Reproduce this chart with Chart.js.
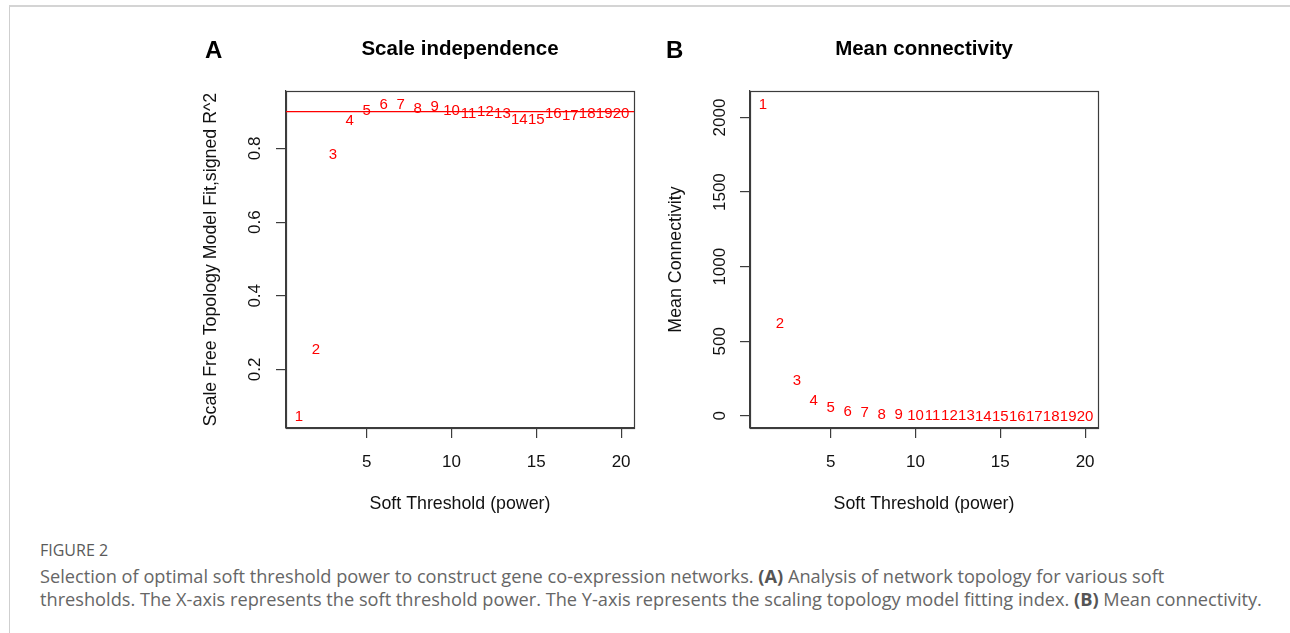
<!DOCTYPE html>
<html>
<head>
<meta charset="utf-8">
<script src="https://cdn.jsdelivr.net/npm/chart.js@4.4.1/dist/chart.umd.min.js"></script>
<style>
html,body{margin:0;padding:0;background:#fff;width:1290px;height:633px;overflow:hidden;position:relative;}
#frame{position:absolute;left:9px;top:5px;width:1281px;height:628px;border-top:2px solid #d4d4d4;border-left:1.5px solid #cfcfcf;box-sizing:border-box;}
canvas{position:absolute;top:0;}
#cA{left:0;}
#cB{left:645px;}
.cap{position:absolute;left:40px;font-family:"Open Sans",sans-serif;color:#666;white-space:nowrap;}
#fig{top:540px;font-size:16px;line-height:20px;color:#5a5a5a;}
#l1{top:565px;font-size:18.2px;line-height:23px;}
#l2{top:588px;font-size:18.2px;line-height:23px;}
.cap b{font-weight:700;color:#555;}
</style>
</head>
<body>
<div id="frame"></div>
<canvas id="cA" width="645" height="525"></canvas>
<canvas id="cB" width="645" height="525"></canvas>
<div class="cap" id="fig">FIGURE 2</div>
<div class="cap" id="l1">Selection of optimal soft threshold power to construct gene co-expression networks. <b>(A)</b> Analysis of network topology for various soft</div>
<div class="cap" id="l2">thresholds. The X-axis represents the soft threshold power. The Y-axis represents the scaling topology model fitting index. <b>(B)</b> Mean connectivity.</div>
<script>
// ---- data ----
const powers = [1,2,3,4,5,6,7,8,9,10,11,12,13,14,15,16,17,18,19,20];
const sftR2  = [0.075,0.256,0.785,0.879,0.905,0.922,0.922,0.912,0.917,0.905,0.897,0.903,0.897,0.882,0.881,0.896,0.891,0.897,0.897,0.898];
const meanK  = [2094,624,246,112,62,38,29,18,12,9,7.5,6.3,5.4,4.7,4.1,3.6,3.2,2.9,2.6,2.4];
const xTickValues = [5,10,15,20];
const yTickValuesA = [0.2,0.4,0.6,0.8];
const yTickValuesB = [0,500,1000,1500,2000];
const yTickTextA = ["0.2","0.4","0.6","0.8"];
const yTickTextB = ["0","500","1000","1500","2000"];
const r2Cutoff = 0.9;

const FONT = '"Liberation Sans", Arial, Helvetica, sans-serif';

function rRange(arr){
  const mn = Math.min(...arr), mx = Math.max(...arr);
  const e = (mx - mn) * 0.04;
  return [mn - e, mx + e];
}

function makePanel(canvasId, cfg){
  const H = 525;
  const W = 645;
  const [xmin, xmax] = rRange(powers);
  const [ymin, ymax] = rRange(cfg.values);
  const panelPlugin = {
    id: 'panel_' + canvasId,
    afterDatasetsDraw(chart){
      const ctx = chart.ctx;
      const ca = chart.chartArea;
      const xs = chart.scales.x, ys = chart.scales.y;
      ctx.save();
      // box
      ctx.strokeStyle = '#3c3c3c';
      ctx.lineWidth = 1.2;
      ctx.strokeRect(Math.round(ca.left)+0.5, Math.round(ca.top)+0.5, Math.round(ca.right-ca.left), Math.round(ca.bottom-ca.top));
      // cutoff line
      if (cfg.cutoff !== undefined){
        const yy = ys.getPixelForValue(cfg.cutoff);
        ctx.strokeStyle = '#ff0000';
        ctx.lineWidth = 1.4;
        ctx.beginPath();
        ctx.moveTo(ca.left, yy);
        ctx.lineTo(ca.right, yy);
        ctx.stroke();
      }
      // point labels
      ctx.fillStyle = '#ff0000';
      ctx.font = '15px ' + FONT;
      ctx.textAlign = 'center';
      ctx.textBaseline = 'alphabetic';
      powers.forEach((p, i) => {
        const px = xs.getPixelForValue(p);
        const py = ys.getPixelForValue(cfg.values[i]);
        ctx.fillText(String(p), px, py + 15*0.358);
      });
      // x tick labels
      ctx.fillStyle = '#111';
      ctx.font = '17px ' + FONT;
      xs.ticks.forEach(t => {
        ctx.fillText(String(t.value), xs.getPixelForValue(t.value), 466.5);
      });
      // y tick labels (rotated)
      ys.ticks.forEach((t, i) => {
        const py = ys.getPixelForValue(t.value);
        ctx.save();
        ctx.translate(cfg.yTickCx + 17*0.358, py);
        ctx.rotate(-Math.PI/2);
        ctx.fillText(cfg.yTickText[i], 0, 0);
        ctx.restore();
      });
      // x title
      const cx = (ca.left + ca.right) / 2;
      ctx.font = '17.8px ' + FONT;
      ctx.fillText('Soft Threshold (power)', cx, 509);
      // y title
      ctx.save();
      ctx.translate(cfg.yTitleCx + 17.8*0.26, (ca.top + ca.bottom)/2);
      ctx.rotate(-Math.PI/2);
      ctx.fillText(cfg.yTitle, 0, 0);
      ctx.restore();
      // main title
      ctx.font = 'bold 20.5px ' + FONT;
      ctx.fillStyle = '#000';
      ctx.fillText(cfg.title, cx, 54.5);
      // panel letter
      ctx.textAlign = 'left';
      ctx.font = 'bold 24px ' + FONT;
      ctx.fillText(cfg.letter, cfg.letterX, 58);
      ctx.restore();
    }
  };
  return new Chart(document.getElementById(canvasId), {
    type: 'scatter',
    data: {
      datasets: [{
        data: powers.map((p, i) => ({x: p, y: cfg.values[i]})),
        pointRadius: 0,
        pointHoverRadius: 0,
        showLine: false
      }]
    },
    options: {
      responsive: false,
      animation: false,
      events: [],
      layout: {padding: {left: 0, right: W - cfg.right, top: 91, bottom: 0}},
      plugins: {legend: {display: false}, tooltip: {enabled: false}},
      scales: {
        x: {
          type: 'linear', min: xmin, max: xmax,
          afterBuildTicks: s => { s.ticks = xTickValues.map(v => ({value: v})); },
          afterFit: s => { s.height = H - 428; },
          ticks: {display: false},
          grid: {drawOnChartArea: false, drawTicks: true, tickLength: 10, color: '#3c3c3c', lineWidth: 1.2},
          border: {display: true, color: '#3c3c3c', width: 1.2}
        },
        y: {
          type: 'linear', min: ymin, max: ymax,
          afterBuildTicks: s => { s.ticks = cfg.yTicks.map(v => ({value: v})); },
          afterFit: s => { s.width = cfg.left; },
          ticks: {display: false},
          grid: {drawOnChartArea: false, drawTicks: true, tickLength: 10, color: '#3c3c3c', lineWidth: 1.2},
          border: {display: true, color: '#3c3c3c', width: 1.2}
        }
      }
    },
    plugins: [panelPlugin]
  });
}

makePanel('cA', {
  values: sftR2, yTicks: yTickValuesA, yTickText: yTickTextA,
  left: 286, right: 634, yTickCx: 254, yTitleCx: 211.5,
  yTitle: 'Scale Free Topology Model Fit,signed R^2',
  title: 'Scale independence', letter: 'A', letterX: 205, cutoff: r2Cutoff
});
makePanel('cB', {
  values: meanK, yTicks: yTickValuesB, yTickText: yTickTextB,
  left: 105, right: 453, yTickCx: 74, yTitleCx: 31.5,
  yTitle: 'Mean Connectivity',
  title: 'Mean connectivity', letter: 'B', letterX: 21
});
</script>
</body>
</html>
